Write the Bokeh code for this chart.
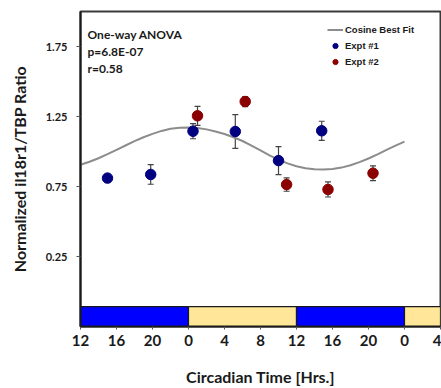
from bokeh.plotting import figure
from bokeh.models import (ColumnDataSource, FixedTicker, Whisker, TeeHead,
                          Legend, LegendItem, Label)
from bokeh.embed import file_html
from bokeh.resources import INLINE

# Circadian time runs continuously in hours from CT12; tick labels wrap at 24
ct_ticks = [12, 16, 20, 24, 28, 32, 36, 40, 44, 48, 52]
ct_tick_labels = ["12", "16", "20", "0", "4", "8", "12", "16", "20", "0", "4"]
ratio_ticks = [0.25, 0.75, 1.25, 1.75]

# Experiment 1: mean ratio and error per sampling time
expt1_ct = [15.0, 19.8, 24.5, 29.2, 34.0, 38.8]
expt1_mean = [0.81, 0.836, 1.145, 1.143, 0.935, 1.148]
expt1_err = [0.025, 0.07, 0.054, 0.12, 0.10, 0.068]

# Experiment 2
expt2_ct = [25.0, 30.3, 34.9, 39.5, 44.5]
expt2_mean = [1.255, 1.357, 0.764, 0.729, 0.845]
expt2_err = [0.068, 0.036, 0.048, 0.054, 0.053]

# Cosine best fit, sampled hourly
fit_ct = list(range(12, 49))
fit_ratio = [0.905, 0.927, 0.952, 0.981, 1.012, 1.043, 1.074, 1.102, 1.126, 1.147,
             1.163, 1.170, 1.172, 1.168, 1.158, 1.143, 1.125, 1.102, 1.075, 1.042,
             1.008, 0.973, 0.942, 0.915, 0.895, 0.881, 0.873, 0.871, 0.875, 0.885,
             0.902, 0.924, 0.950, 0.980, 1.012, 1.042, 1.070]

# Light/dark bar along the time axis
phase_start = [12, 24, 36, 48]
phase_end = [24, 36, 48, 52]
phase_color = ["#0000FF", "#FFE699", "#0000FF", "#FFE699"]
phase_bar_bottom = -0.25
phase_bar_top = -0.108

bold_font = "Lato"

p = figure(width=441, height=388, output_backend="svg", toolbar_location=None,
           x_range=(12, 52), y_range=(-0.25, 2.0),
           min_border_left=80, min_border_right=1, min_border_top=11,
           min_border_bottom=61)
p.background_fill_color = "white"
p.border_fill_color = "white"
p.grid.visible = False
p.outline_line_color = "#3a3a3a"
p.outline_line_width = 2

# light/dark bar
p.quad(left=phase_start, right=phase_end,
       bottom=[phase_bar_bottom] * len(phase_start),
       top=[phase_bar_top] * len(phase_start),
       fill_color=phase_color, line_color="#1a1a1a", line_width=1.2)

# fitted curve
fit_line = p.line(fit_ct, fit_ratio, line_color="#8c8c8c", line_width=2)

# error bars
def add_errors(ct, mean, err):
    src = ColumnDataSource(dict(x=ct,
                                upper=[m + e for m, e in zip(mean, err)],
                                lower=[m - e for m, e in zip(mean, err)]))
    w = Whisker(source=src, base="x", upper="upper", lower="lower",
                line_color="#444444", line_width=1.2, level="underlay",
                upper_head=TeeHead(size=6, line_color="#444444", line_width=1.2),
                lower_head=TeeHead(size=6, line_color="#444444", line_width=1.2))
    p.add_layout(w)

add_errors(expt1_ct, expt1_mean, expt1_err)
add_errors(expt2_ct, expt2_mean, expt2_err)

e1 = p.scatter(expt1_ct, expt1_mean, size=10.5, fill_color="#000080",
               line_color="#000080")
e2 = p.scatter(expt2_ct, expt2_mean, size=10.5, fill_color="#8B0000",
               line_color="#8B0000")

# axes
p.xaxis.ticker = FixedTicker(ticks=ct_ticks)
p.xaxis.major_label_overrides = {t: l for t, l in zip(ct_ticks, ct_tick_labels)}
p.yaxis.ticker = FixedTicker(ticks=ratio_ticks)
p.yaxis.formatter.use_scientific = False

for ax in (p.xaxis[0], p.yaxis[0]):
    ax.minor_tick_line_color = None
    ax.major_tick_in = 0
    ax.axis_line_color = "#1a1a1a"
    ax.axis_line_width = 2
    ax.major_tick_line_color = "#555555"
    ax.major_label_text_font = bold_font
    ax.major_label_text_font_style = "bold"
    ax.major_label_text_color = "#1a1a1a"
    ax.axis_label_text_font = bold_font
    ax.axis_label_text_font_style = "bold"
    ax.axis_label_text_color = "#1a1a1a"
    ax.axis_label_text_font_size = "16px"

p.xaxis.major_tick_out = 3
p.xaxis.major_label_text_font_size = "15px"
p.xaxis.major_label_standoff = 5
p.xaxis.axis_label = "Circadian Time [Hrs.]"
p.xaxis.axis_label_standoff = 18

p.yaxis.major_tick_out = 4
p.yaxis.major_label_text_font_size = "11px"
p.yaxis.major_label_standoff = 9
p.yaxis.axis_label = "Normalized il18r1/TBP Ratio"
p.yaxis.axis_label_standoff = 14

# statistics block
for txt, yv in [("One-way ANOVA", 1.836), ("p=6.8E-07", 1.714), ("r=0.58", 1.593)]:
    p.add_layout(Label(x=12.78, y=yv, text=txt, text_font=bold_font,
                       text_font_style="bold", text_font_size="12px",
                       text_color="#1a1a1a", text_baseline="middle"))

legend = Legend(items=[LegendItem(label="Cosine Best Fit", renderers=[fit_line]),
                       LegendItem(label="Expt #1", renderers=[e1]),
                       LegendItem(label="Expt #2", renderers=[e2])],
                location=(247, 258), padding=0, margin=0, spacing=3,
                glyph_width=16, glyph_height=13, label_height=13,
                label_standoff=2, border_line_color=None,
                background_fill_alpha=0,
                label_text_font="Liberation Sans", label_text_font_style="bold",
                label_text_font_size="9.5px", label_text_color="#1a1a1a")
p.add_layout(legend)

open("out.html", "w").write(file_html(p, INLINE))
